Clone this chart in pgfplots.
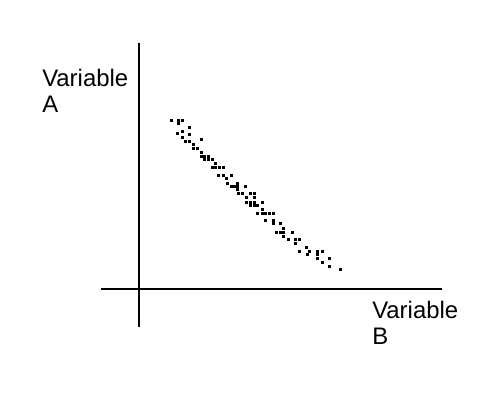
\documentclass[border=0pt]{standalone}
\usepackage{fontspec}
\setmainfont{Liberation Sans}
\usepackage{pgfplots}
\pgfplotsset{compat=1.18}
\begin{document}
\begin{tikzpicture}
\begin{axis}[
  scale only axis, width=12.5cm, height=10cm,
  xmin=-139, xmax=361, ymin=-111, ymax=289,
  hide axis, clip=false,
]
\path (axis cs:-139,-111) rectangle (axis cs:361,289);
% axis lines
\addplot[black, line width=1.2pt, no marks] coordinates {(-38,0) (303,0)};
\addplot[black, line width=1.2pt, no marks] coordinates {(0,-38) (0,246)};
% scatter
\addplot[only marks, mark=square*, mark size=0.62pt, black] coordinates {
(32,169) (39,169) (43,169) (39,166) (50,162) (43,158) (38,156) (50,155)
(43,152) (46,148) (50,148) (62,150) (54,145) (54,141) (58,141) (62,137)
(62,133) (65,133) (69,133) (65,130) (69,130) (73,130) (76,126) (73,122)
(76,122) (80,122) (84,122) (79,114) (84,114) (92,114) (87,111) (88,106)
(98,106) (92,103) (95,103) (98,103) (106,103) (98,100) (99,96) (103,96)
(111,96) (115,96) (107,92) (115,92) (107,87) (111,87) (115,87) (123,87)
(111,84) (115,84) (118,84) (123,80) (118,76) (123,76) (126,76) (130,76)
(134,76) (126,69) (134,69) (134,66) (141,66) (144,61) (137,57) (141,57)
(144,57) (153,57) (144,53) (149,50) (156,50) (160,50) (156,46) (167,42)
(160,38) (170,38) (178,38) (183,38) (168,35) (178,35) (178,31) (190,31)
(183,27) (190,23) (201,20)
};
\node[anchor=base west, inner sep=0pt, font=\fontsize{17}{20}\selectfont] at (axis cs:-97,202) {Variable};
\node[anchor=base west, inner sep=0pt, font=\fontsize{17}{20}\selectfont] at (axis cs:-97,176) {A};
\node[anchor=base west, inner sep=0pt, font=\fontsize{17}{20}\selectfont] at (axis cs:233,-30) {Variable};
\node[anchor=base west, inner sep=0pt, font=\fontsize{17}{20}\selectfont] at (axis cs:233,-56) {B};
\end{axis}
\end{tikzpicture}
\end{document}
